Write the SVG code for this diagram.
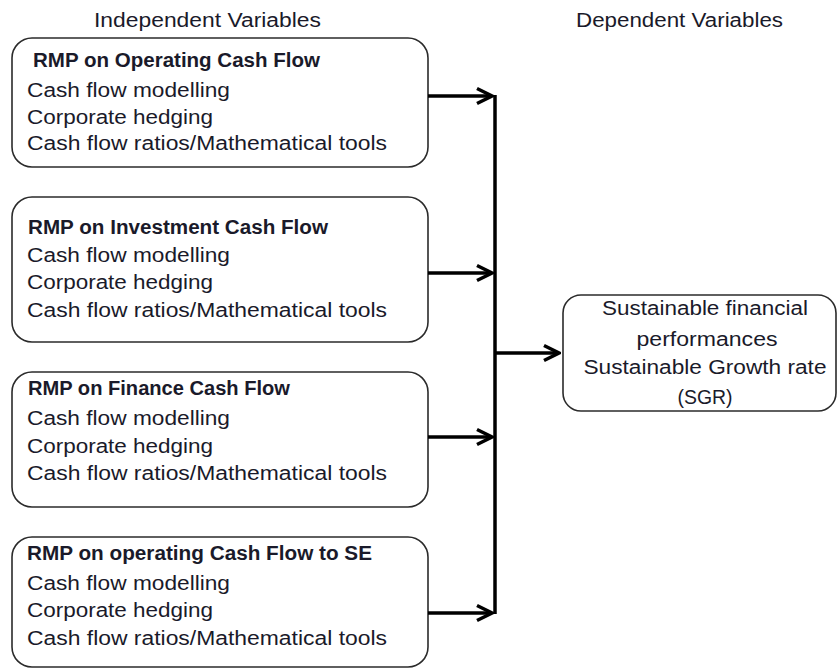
<svg xmlns="http://www.w3.org/2000/svg" width="838" height="671" viewBox="0 0 838 671">
  <style>
    .box { fill: #ffffff; stroke: #2b2b2b; stroke-width: 1.6; }
    .t { font-family: "Liberation Sans", Arial, sans-serif; font-size: 20px; fill: #1a1a2a; }
    .b { font-weight: bold; }
    .c { text-anchor: middle; }
    .ln { stroke: #000; stroke-width: 3.5; fill: none; }
  </style>
  <defs>
    <marker id="arr" markerUnits="userSpaceOnUse" viewBox="-20 -11 22 22" refX="0" refY="0" markerWidth="22" markerHeight="22" orient="auto">
      <path d="M-15,-7.5 L0,0 L-15,7.5" fill="none" stroke="#000" stroke-width="3.5"/>
    </marker>
  </defs>
  <rect width="838" height="671" fill="#ffffff"/>

  <g id="headers">
    <text class="t" x="94" y="27" textLength="227" lengthAdjust="spacingAndGlyphs">Independent Variables</text>
    <text class="t" x="576" y="27" textLength="207" lengthAdjust="spacingAndGlyphs">Dependent Variables</text>
  </g>

  <g id="node1">
    <rect class="box" x="12" y="38" width="416" height="129" rx="20" ry="20"/>
    <text class="t b" x="33" y="67" textLength="287" lengthAdjust="spacingAndGlyphs">RMP on Operating Cash Flow</text>
    <text class="t" x="27" y="97" textLength="203" lengthAdjust="spacingAndGlyphs">Cash flow modelling</text>
    <text class="t" x="27" y="124" textLength="186" lengthAdjust="spacingAndGlyphs">Corporate hedging</text>
    <text class="t" x="27" y="150" textLength="360" lengthAdjust="spacingAndGlyphs">Cash flow ratios/Mathematical tools</text>
  </g>

  <g id="node2">
    <rect class="box" x="12" y="197" width="416" height="145" rx="20" ry="20"/>
    <text class="t b" x="28" y="234" textLength="300" lengthAdjust="spacingAndGlyphs">RMP on Investment Cash Flow</text>
    <text class="t" x="27" y="262" textLength="203" lengthAdjust="spacingAndGlyphs">Cash flow modelling</text>
    <text class="t" x="27" y="289" textLength="186" lengthAdjust="spacingAndGlyphs">Corporate hedging</text>
    <text class="t" x="27" y="317" textLength="360" lengthAdjust="spacingAndGlyphs">Cash flow ratios/Mathematical tools</text>
  </g>

  <g id="node3">
    <rect class="box" x="12" y="372" width="416" height="135" rx="20" ry="20"/>
    <text class="t b" x="28" y="395" textLength="262" lengthAdjust="spacingAndGlyphs">RMP on Finance Cash Flow</text>
    <text class="t" x="27" y="425" textLength="203" lengthAdjust="spacingAndGlyphs">Cash flow modelling</text>
    <text class="t" x="27" y="453" textLength="186" lengthAdjust="spacingAndGlyphs">Corporate hedging</text>
    <text class="t" x="27" y="480" textLength="360" lengthAdjust="spacingAndGlyphs">Cash flow ratios/Mathematical tools</text>
  </g>

  <g id="node4">
    <rect class="box" x="12" y="537" width="416" height="130" rx="20" ry="20"/>
    <text class="t b" x="27" y="560" textLength="345" lengthAdjust="spacingAndGlyphs">RMP on operating Cash Flow to SE</text>
    <text class="t" x="27" y="590" textLength="203" lengthAdjust="spacingAndGlyphs">Cash flow modelling</text>
    <text class="t" x="27" y="617" textLength="186" lengthAdjust="spacingAndGlyphs">Corporate hedging</text>
    <text class="t" x="27" y="645" textLength="360" lengthAdjust="spacingAndGlyphs">Cash flow ratios/Mathematical tools</text>
  </g>

  <g id="node5">
    <rect class="box" x="563" y="295" width="273" height="116" rx="18" ry="18"/>
    <text class="t c" x="705" y="315" textLength="206" lengthAdjust="spacingAndGlyphs">Sustainable financial</text>
    <text class="t c" x="707" y="346" textLength="141" lengthAdjust="spacingAndGlyphs">performances</text>
    <text class="t c" x="705" y="374" textLength="243" lengthAdjust="spacingAndGlyphs">Sustainable Growth rate</text>
    <text class="t c" x="705" y="404" textLength="55" lengthAdjust="spacingAndGlyphs">(SGR)</text>
  </g>

  <g id="connectors">
    <line class="ln" x1="495" y1="95" x2="495" y2="614"/>
    <line class="ln" x1="428" y1="96" x2="492" y2="96" marker-end="url(#arr)"/>
    <line class="ln" x1="428" y1="273" x2="492" y2="273" marker-end="url(#arr)"/>
    <line class="ln" x1="428" y1="437" x2="492" y2="437" marker-end="url(#arr)"/>
    <line class="ln" x1="428" y1="613" x2="492" y2="613" marker-end="url(#arr)"/>
    <line class="ln" x1="495" y1="353" x2="559" y2="353" marker-end="url(#arr)"/>
  </g>
</svg>
